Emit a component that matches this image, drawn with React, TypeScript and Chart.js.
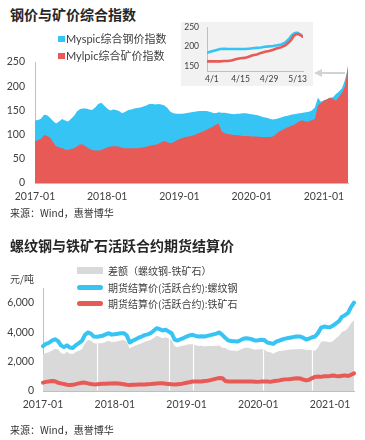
import React, { useEffect, useRef } from "react";
import { Chart, registerables } from "chart.js";

Chart.register(...registerables);

const LATIN = "Lato, 'Noto Sans CJK SC', sans-serif";
const CJK = "'Noto Sans CJK SC', Lato, sans-serif";

const BLUE = "#35C4F4";
const RED = "#E85A56";
const GRAY = "#D9D9D9";
const AXIS = "#BFBFBF";
const TICK = "#404040";

// ---------- texts ----------
const chart1Title = "钢价与矿价综合指数";
const chart2Title = "螺纹钢与铁矿石活跃合约期货结算价";
const sourceText = "来源：Wind，惠誉博华";
const indexNames = ["Myspic综合钢价指数", "Mylpic综合矿价指数"];
const futuresNames = ["差额（螺纹钢-铁矿石）", "期货结算价(活跃合约):螺纹钢", "期货结算价(活跃合约):铁矿石"];
const futuresUnit = "元/吨";
const yearTickLabels = ["2017-01", "2018-01", "2019-01", "2020-01", "2021-01"];

// ---------- chart 1: composite indices (semi-monthly, 2017-01 .. 2021-05) ----------
const steelIndex = [
  129, 130, 133, 141, 140, 135, 128, 123, 127, 132, 129, 127, 133, 139, 148, 153, 154, 154, 152, 151, 156, 163, 166, 160,
  154, 150, 152, 151, 148, 144, 147, 151, 152, 154, 155, 156, 158, 160, 163, 163, 162, 163, 162, 160, 155, 147, 144, 143,
  143, 143, 144, 145, 146, 147, 148, 149, 149, 149, 147, 145, 144, 146, 145, 145, 144, 143, 142, 143, 143, 144, 144, 143,
  142, 141, 140, 138, 136, 135, 133, 131, 132, 134, 136, 138, 139, 141, 142, 143, 144, 145, 146, 147, 150, 156, 176, 168,
  171, 173, 176, 177, 184, 189, 196, 213, 238,
];
const oreIndex = [
  86, 89, 91, 99, 97, 94, 84, 76, 74, 72, 69, 68, 70, 72, 76, 80, 79, 75, 71, 68, 67, 67, 68, 71,
  74, 75, 76, 76, 75, 73, 72, 72, 72, 72, 72, 73, 74, 75, 77, 78, 79, 81, 84, 87, 84, 82, 84, 88,
  91, 93, 95, 96, 97, 99, 102, 105, 107, 110, 113, 116, 120, 123, 107, 103, 101, 100, 99, 99, 98, 97, 97, 97,
  96, 96, 96, 95, 95, 95, 95, 96, 100, 106, 109, 112, 115, 118, 120, 124, 128, 129, 127, 127, 130, 132, 160, 165,
  170, 173, 176, 174, 170, 178, 186, 200, 243,
];

// inset: daily, around April-May 2021 (days relative to 4/1)
const insetDays = [-2, 0, 2, 4, 6, 8, 10, 12, 14, 16, 18, 20, 22, 24, 26, 28, 30, 32, 34, 36, 38, 39, 40, 41, 42, 43, 44, 44.5];
const insetSteel = [185, 188, 191, 194, 195, 194, 194, 194, 194, 194, 195, 196, 197, 198, 200, 201, 202, 204, 206, 211, 222, 229, 234, 236, 236, 233, 229, 226];
const insetOre = [162, 162, 162, 162, 163, 163, 165, 168, 170, 171, 174, 178, 180, 184, 187, 189, 192, 196, 199, 204, 213, 219, 228, 232, 233, 231, 228, 226];
const insetTickDays = [0, 14, 28, 42];
const insetTickLabels = ["4/1", "4/15", "4/29", "5/13"];

// ---------- chart 2: futures settlement prices (semi-monthly) ----------
const rebarPrice = [
  3050, 3200, 3280, 3430, 3520, 3400, 3100, 2980, 3100, 2950, 2930, 3120, 3250, 3400, 3800, 3980, 3900, 3700, 3680, 3720, 3760, 3850, 3930, 3830,
  3860, 3890, 3920, 3930, 3780, 3300, 3420, 3520, 3620, 3700, 3800, 3850, 3930, 4100, 4270, 4200, 4110, 4160, 4050, 3930, 3500, 3430, 3520, 3600,
  3700, 3780, 3820, 3750, 3700, 3720, 3700, 3750, 3800, 3850, 3900, 3980, 3800, 3600, 3430, 3400, 3380, 3360, 3450, 3550, 3590, 3560, 3500, 3430,
  3450, 3480, 3470, 3300, 3250, 3200, 3350, 3430, 3500, 3560, 3600, 3640, 3680, 3700, 3700, 3620, 3500, 3560, 3650, 3700, 3950, 4300, 4380, 4350,
  4340, 4450, 4600, 4750, 5050, 5150, 5300, 5700, 6000,
];
const orePrice = [
  570, 620, 650, 680, 660, 560, 520, 470, 430, 410, 420, 470, 520, 560, 570, 520, 470, 450, 460, 480, 490, 500, 510, 510,
  520, 510, 490, 460, 430, 410, 420, 430, 440, 450, 450, 460, 470, 490, 510, 520, 520, 500, 480, 460, 450, 460, 470, 520,
  560, 600, 640, 640, 640, 650, 680, 700, 740, 790, 840, 880, 860, 680, 640, 640, 650, 640, 640, 650, 640, 640, 640, 630,
  620, 640, 650, 640, 620, 660, 700, 720, 760, 790, 800, 820, 850, 860, 850, 780, 720, 760, 880, 960, 980, 960, 1000, 1010,
  1020, 1050, 1020, 1000, 1030, 1060, 1020, 1100, 1200,
];
const spreadPrice = [
  2480, 2580, 2630, 2750, 2860, 2840, 2580, 2510, 2670, 2540, 2510, 2650, 2730, 2840, 3230, 3460, 3430, 3250, 3220, 3240, 3270, 3350, 3420, 3320,
  3340, 3380, 3430, 3470, 3350, 2890, 3000, 3090, 3180, 3250, 3350, 3390, 3460, 3610, 3760, 3680, 3590, 3660, 3570, 3470, 3050, 2970, 3050, 3080,
  3140, 3180, 3180, 3110, 3060, 3070, 3020, 3050, 3060, 3060, 3060, 3100, 2940, 2920, 2790, 2760, 2730, 2720, 2810, 2900, 2950, 2920, 2860, 2800,
  2830, 2840, 2820, 2660, 2630, 2540, 2650, 2710, 2740, 2770, 2800, 2820, 2830, 2840, 2850, 2840, 2780, 2800, 2770, 2740, 2970, 3340, 3380, 3340,
  3320, 3400, 3580, 3750, 4020, 4090, 4280, 4600, 4800,
];
const futuresGapDates = ["2017-10-01", "2018-10-01", "2019-02-05", "2020-01-24", "2020-10-01"];

// semi-monthly date labels (1st and 16th of each month) starting 2017-01-01
function semiMonthlyLabels(n: number): string[] {
  const out: string[] = [];
  for (let k = 0; k < n; k++) {
    const y = 2017 + Math.floor(k / 24);
    const m = Math.floor((k % 24) / 2) + 1;
    out.push(`${y}-${String(m).padStart(2, "0")}-${k % 2 === 0 ? "01" : "16"}`);
  }
  return out;
}
function dateToSemiIndex(d: string): number {
  const [y, m, day] = d.split("-").map(Number);
  return (y - 2017) * 24 + (m - 1) * 2 + (day - 1) / 15;
}

const indexLabels = semiMonthlyLabels(steelIndex.length);
const futuresLabels = semiMonthlyLabels(rebarPrice.length);

function yearTickCallback(labels: string[]) {
  return (_v: any, index: number) => {
    const lab = labels[index];
    if (lab && lab.endsWith("-01-01") && yearTickLabels.includes(lab.slice(0, 7))) return lab.slice(0, 7);
    return "";
  };
}

function ChartCanvas({ left, top, width, height, make }: any) {
  const ref = useRef<HTMLCanvasElement | null>(null);
  useEffect(() => {
    if (!ref.current) return;
    const chart = new Chart(ref.current, make());
    return () => chart.destroy();
  }, []);
  return (
    <canvas
      ref={ref}
      width={width}
      height={height}
      style={{ position: "absolute", left, top, width, height }}
    />
  );
}

function Txt({ x, cy, size, bold = false, color = "#333", family = CJK, children }: any) {
  const lh = Math.round(size * 1.3);
  return (
    <div
      style={{
        position: "absolute",
        left: x,
        top: cy - lh / 2,
        fontSize: size,
        lineHeight: lh + "px",
        fontWeight: bold ? 700 : 400,
        color,
        fontFamily: family,
        whiteSpace: "nowrap",
      }}
    >
      {children}
    </div>
  );
}

const baseOpts = {
  responsive: false,
  animation: false as const,
  devicePixelRatio: 1,
  events: [] as any[],
};

// chart 1 canvas: top 45, chart area 62..183
function makeIndexChart(): any {
  return {
    type: "line",
    data: {
      labels: indexLabels,
      datasets: [
        { label: indexNames[1], data: oreIndex, borderWidth: 0, backgroundColor: RED, fill: "origin", pointRadius: 0, tension: 0 },
        { label: indexNames[0], data: steelIndex, borderWidth: 0, backgroundColor: BLUE, fill: "origin", pointRadius: 0, tension: 0 },
      ],
    },
    options: {
      ...baseOpts,
      layout: { padding: { top: 17, right: 17, bottom: 0, left: 0 } },
      plugins: { legend: { display: false }, tooltip: { enabled: false } },
      scales: {
        x: {
          type: "category",
          grid: { display: false, drawTicks: false },
          border: { display: true, color: AXIS },
          ticks: {
            autoSkip: false, maxRotation: 0, minRotation: 0, padding: 7, color: TICK,
            font: { family: LATIN, size: 10.5, lineHeight: 1.2 },
            callback: yearTickCallback(indexLabels),
          },
          afterFit: (s: any) => { s.height = 27; },
        },
        y: {
          min: 0, max: 250,
          grid: { display: false, drawTicks: false },
          border: { display: true, color: AXIS },
          ticks: { stepSize: 50, padding: 10, color: TICK, font: { family: LATIN, size: 10.5, lineHeight: 1.2 } },
          afterFit: (s: any) => { s.width = 35; },
        },
      },
    },
  };
}

// inset canvas: top 13, chart area 27.5..71
function makeInsetChart(): any {
  return {
    type: "line",
    data: {
      datasets: [
        { label: indexNames[1], data: insetDays.map((d, i) => ({ x: d, y: insetOre[i] })), borderColor: RED, borderWidth: 2.6, pointRadius: 0, fill: false, borderJoinStyle: "round", borderCapStyle: "round" },
        { label: indexNames[0], data: insetDays.map((d, i) => ({ x: d, y: insetSteel[i] })), borderColor: BLUE, borderWidth: 2.6, pointRadius: 0, fill: false, borderJoinStyle: "round", borderCapStyle: "round" },
      ],
    },
    options: {
      ...baseOpts,
      layout: { padding: { top: 14.5, right: 10, bottom: 0, left: 0 } },
      plugins: { legend: { display: false }, tooltip: { enabled: false } },
      scales: {
        x: {
          type: "linear", min: -2.4, max: 44.6,
          grid: { display: false, drawTicks: false },
          border: { display: true, color: AXIS },
          afterBuildTicks: (s: any) => { s.ticks = insetTickDays.map((v) => ({ value: v })); },
          ticks: {
            autoSkip: false, maxRotation: 0, padding: 3, color: TICK,
            font: { family: LATIN, size: 8.5, lineHeight: 1.2 },
            callback: (_v: any, i: number) => insetTickLabels[i],
          },
          afterFit: (s: any) => { s.height = 15; },
        },
        y: {
          min: 137, max: 250,
          grid: { display: false, drawTicks: false },
          border: { display: true, color: AXIS },
          afterBuildTicks: (s: any) => { s.ticks = [150, 200, 250].map((v) => ({ value: v })); },
          ticks: { autoSkip: false, padding: 8, color: TICK, font: { family: LATIN, size: 8.5, lineHeight: 1.2 } },
          afterFit: (s: any) => { s.width = 26; },
        },
      },
    },
  };
}

const gapPlugin = {
  id: "futuresGaps",
  afterDatasetDraw(chart: any, args: any) {
    if (args.index !== 2) return;
    const xs = chart.scales.x;
    const ys = chart.scales.y;
    const ctx = chart.ctx;
    ctx.save();
    ctx.strokeStyle = "#FFFFFF";
    ctx.lineWidth = 1.2;
    for (const d of futuresGapDates) {
      const idx = dateToSemiIndex(d);
      const px = Math.round(xs.getPixelForValue(idx)) + 0.5;
      const v = spreadPrice[Math.round(idx)];
      ctx.beginPath();
      ctx.moveTo(px, ys.getPixelForValue(0) - 0.5);
      ctx.lineTo(px, ys.getPixelForValue(v));
      ctx.stroke();
    }
    ctx.restore();
  },
};

// chart 2 canvas: top 272, chart area 288..391
function makeFuturesChart(): any {
  return {
    type: "line",
    data: {
      labels: futuresLabels,
      datasets: [
        { label: futuresNames[1], data: rebarPrice, borderColor: BLUE, borderWidth: 4, pointRadius: 0, fill: false, tension: 0, borderJoinStyle: "round", borderCapStyle: "round" },
        { label: futuresNames[2], data: orePrice, borderColor: RED, borderWidth: 4, pointRadius: 0, fill: false, tension: 0, borderJoinStyle: "round", borderCapStyle: "round" },
        { label: futuresNames[0], data: spreadPrice, borderWidth: 0, backgroundColor: GRAY, fill: "origin", pointRadius: 0, tension: 0 },
      ],
    },
    plugins: [gapPlugin],
    options: {
      ...baseOpts,
      layout: { padding: { top: 16, right: 11, bottom: 0, left: 0 } },
      plugins: { legend: { display: false }, tooltip: { enabled: false } },
      scales: {
        x: {
          type: "category",
          grid: { display: false, drawTicks: false },
          border: { display: true, color: AXIS },
          ticks: {
            autoSkip: false, maxRotation: 0, minRotation: 0, padding: 7, color: TICK,
            font: { family: LATIN, size: 10.5, lineHeight: 1.2 },
            callback: yearTickCallback(futuresLabels),
          },
          afterFit: (s: any) => { s.height = 24; },
        },
        y: {
          min: 0, max: 7000,
          grid: { display: false, drawTicks: false },
          border: { display: true, color: AXIS },
          afterBuildTicks: (s: any) => { s.ticks = [0, 2000, 4000, 6000].map((v) => ({ value: v })); },
          ticks: {
            autoSkip: false, padding: 9, color: TICK, font: { family: LATIN, size: 10.5, lineHeight: 1.2 },
            callback: (v: any) => Number(v).toLocaleString("en-US"),
          },
          afterFit: (s: any) => { s.width = 43; },
        },
      },
    },
  };
}

export default function App() {
  return (
    <div style={{ position: "absolute", left: 0, top: 0, width: 365, height: 440, background: "#fff", overflow: "hidden" }}>
      {/* chart 1 */}
      <Txt x={10} cy={14} size={14} bold color="#262626">{chart1Title}</Txt>
      <ChartCanvas left={0} top={45} width={365} height={165} make={makeIndexChart} />
      <div style={{ position: "absolute", left: 58, top: 35.5, width: 6.5, height: 6.5, background: BLUE }} />
      <Txt x={66} cy={38.5} size={11} color="#404040" family={LATIN}>{indexNames[0]}</Txt>
      <div style={{ position: "absolute", left: 58, top: 52.5, width: 6.5, height: 6.5, background: RED }} />
      <Txt x={66} cy={55.5} size={11} color="#404040" family={LATIN}>{indexNames[1]}</Txt>
      <div style={{ position: "absolute", left: 181, top: 21.5, width: 132, height: 64.5, background: "#F2F2F2" }} />
      <ChartCanvas left={181} top={13} width={132} height={73} make={makeInsetChart} />
      <svg width={34} height={10} style={{ position: "absolute", left: 313, top: 68 }}>
        <line x1={7} y1={5} x2={32} y2={5} stroke="#D3D3D3" strokeWidth={2} />
        <polygon points="1,5 9,1 9,9" fill="#D3D3D3" />
      </svg>
      <Txt x={10} cy={212} size={10} color="#333">{sourceText}</Txt>

      {/* chart 2 */}
      <Txt x={10} cy={245} size={14} bold color="#262626">{chart2Title}</Txt>
      <div style={{ position: "absolute", left: 77, top: 266.5, width: 26, height: 7, background: GRAY }} />
      <Txt x={108} cy={270} size={10} color="#404040">{futuresNames[0]}</Txt>
      <div style={{ position: "absolute", left: 77, top: 284.5, width: 26, height: 5, borderRadius: 2.5, background: BLUE }} />
      <Txt x={108} cy={287} size={10} color="#404040">{futuresNames[1]}</Txt>
      <div style={{ position: "absolute", left: 77, top: 300.5, width: 26, height: 5, borderRadius: 2.5, background: RED }} />
      <Txt x={108} cy={303} size={10} color="#404040">{futuresNames[2]}</Txt>
      <Txt x={10} cy={278} size={10} color="#404040">{futuresUnit}</Txt>
      <ChartCanvas left={0} top={272} width={365} height={143} make={makeFuturesChart} />
      <Txt x={10} cy={429} size={10} color="#333">{sourceText}</Txt>
    </div>
  );
}
